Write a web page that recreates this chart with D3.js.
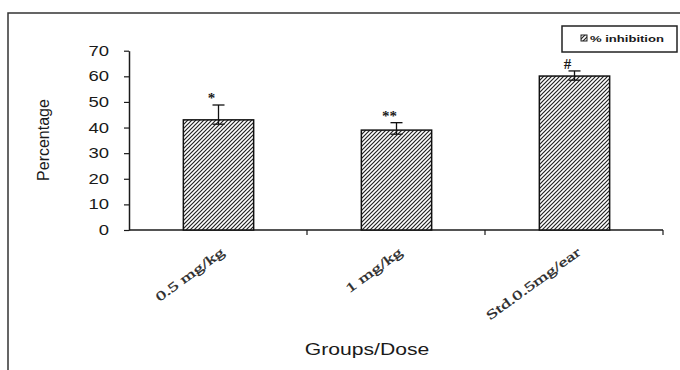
<!DOCTYPE html>
<html>
<head>
<meta charset="utf-8">
<script src="https://cdn.jsdelivr.net/npm/d3@7/dist/d3.min.js"></script>
<style>
  html, body { margin: 0; padding: 0; background: #fff; }
  svg { display: block; }
</style>
</head>
<body>
<script>
// ---- data ----
const categories = ["0.5 mg/kg", "1 mg/kg", "Std.0.5mg/ear"];
const values = [43, 39, 60.1];
const errUpper = [48.8, 41.9, 62.1];
const errLower = [41.3, 37.4, 58.5];
const marks = ["*", "**", "#"];
const yTicks = [0, 10, 20, 30, 40, 50, 60, 70];
const seriesName = "% inhibition";
const xTitle = "Groups/Dose";
const yTitle = "Percentage";

// ---- setup ----
const W = 680, H = 370;
const SANS = "'Liberation Sans', Arial, sans-serif";
const SERIF = "'Liberation Serif', 'Times New Roman', serif";
const INK = "#1a1a1a";
const STRETCH = 1.32;

const svg = d3.select("body").append("svg").attr("width", W).attr("height", H);

const defs = svg.append("defs");
const pat = defs.append("pattern")
  .attr("id", "hatch").attr("patternUnits", "userSpaceOnUse")
  .attr("width", 4).attr("height", 4);
pat.append("rect").attr("width", 4).attr("height", 4).attr("fill", "#fff");
pat.append("path").attr("d", "M-1,1 l2,-2 M0,4 l4,-4 M3,5 l2,-2")
  .attr("stroke", "#222").attr("stroke-width", 1.2);

// outer frame
svg.append("rect").attr("x", 8).attr("y", 13).attr("width", 700).attr("height", 400)
  .attr("fill", "none").attr("stroke", "#333").attr("stroke-width", 1.5);

const x = d3.scaleBand().domain(categories).range([129, 663]).padding(0);
const y = d3.scaleLinear().domain([0, 70]).range([230, 50.7]);

function stretch(sel, k) {
  sel.each(function () {
    const len = this.getComputedTextLength();
    d3.select(this).attr("textLength", len * k).attr("lengthAdjust", "spacingAndGlyphs");
  });
}

// y axis
const yAxis = svg.append("g").attr("transform", `translate(${x.range()[0]},0)`)
  .call(d3.axisLeft(y).tickValues(yTicks).tickSize(5).tickPadding(15).tickSizeOuter(0));
yAxis.select(".domain").attr("stroke", INK).attr("stroke-width", 1.5);
yAxis.selectAll(".tick line").attr("stroke", INK).attr("stroke-width", 1.2);
yAxis.selectAll(".tick text").attr("font-family", SANS).attr("font-size", 14)
  .attr("fill", INK).call(stretch, STRETCH);

// x axis line + ticks at band boundaries
const xa = svg.append("g");
xa.append("line").attr("x1", x.range()[0]).attr("x2", x.range()[1])
  .attr("y1", y(0)).attr("y2", y(0)).attr("stroke", INK).attr("stroke-width", 1.5);
xa.selectAll("line.tk").data(categories).join("line").attr("class", "tk")
  .attr("x1", d => x(d) + x.step()).attr("x2", d => x(d) + x.step())
  .attr("y1", y(0)).attr("y2", y(0) + 5).attr("stroke", INK).attr("stroke-width", 1.2);

// bars
const bw = x.bandwidth() * 0.395;
const cx = d => x(d) + x.bandwidth() / 2 + 0.5;
svg.selectAll("rect.bar").data(categories).join("rect").attr("class", "bar")
  .attr("x", d => cx(d) - bw / 2).attr("width", bw)
  .attr("y", (d, i) => y(values[i])).attr("height", (d, i) => y(0) - y(values[i]))
  .attr("fill", "url(#hatch)").attr("stroke", "#111").attr("stroke-width", 1.5);

// error bars
const eb = svg.selectAll("g.err").data(categories).join("g").attr("class", "err")
  .attr("stroke", "#111").attr("stroke-width", 1.3);
eb.append("line").attr("x1", cx).attr("x2", cx)
  .attr("y1", (d, i) => y(errUpper[i])).attr("y2", (d, i) => y(errLower[i]));
eb.append("line").attr("x1", d => cx(d) - 6).attr("x2", d => cx(d) + 6)
  .attr("y1", (d, i) => y(errUpper[i])).attr("y2", (d, i) => y(errUpper[i]));
eb.append("line").attr("x1", d => cx(d) - 6).attr("x2", d => cx(d) + 6)
  .attr("y1", (d, i) => y(errLower[i])).attr("y2", (d, i) => y(errLower[i]));

// significance marks
svg.selectAll("text.mark").data(categories).join("text").attr("class", "mark")
  .attr("x", d => cx(d) - 7).attr("y", (d, i) => y(errUpper[i]) - 2)
  .attr("text-anchor", "middle").attr("font-family", SERIF).attr("font-size", 15)
  .attr("font-weight", "bold").attr("fill", INK)
  .text((d, i) => marks[i]);

// x labels (rotated)
svg.selectAll("text.xl").data(categories).join("text").attr("class", "xl")
  .attr("transform", d => `translate(${cx(d) + 7},${y(0) + 24}) rotate(-36)`)
  .attr("text-anchor", "end").attr("font-family", SERIF).attr("font-size", 13)
  .attr("fill", "#2a2a2a").attr("stroke", "#2a2a2a").attr("stroke-width", 0.3)
  .text(d => d).call(stretch, 1.55);

// axis titles
svg.append("text").attr("x", 367).attr("y", 355).attr("text-anchor", "middle")
  .attr("font-family", SANS).attr("font-size", 16).attr("fill", INK)
  .text(xTitle).call(stretch, STRETCH);
svg.append("text").attr("transform", "translate(49,140) rotate(-90)").attr("text-anchor", "middle")
  .attr("font-family", SANS).attr("font-size", 16).attr("fill", INK)
  .text(yTitle);

// legend
const lg = svg.append("g");
lg.append("rect").attr("x", 562).attr("y", 26).attr("width", 115).attr("height", 26)
  .attr("fill", "#fff").attr("stroke", "#222").attr("stroke-width", 1.5);
lg.append("rect").attr("x", 581).attr("y", 35).attr("width", 6).attr("height", 6)
  .attr("fill", "url(#hatch)").attr("stroke", "#222").attr("stroke-width", 1);
lg.append("text").attr("x", 590).attr("y", 41.5)
  .attr("font-family", SANS).attr("font-size", 9).attr("font-weight", "bold").attr("fill", INK)
  .text(seriesName).call(stretch, 1.45);
</script>
</body>
</html>
